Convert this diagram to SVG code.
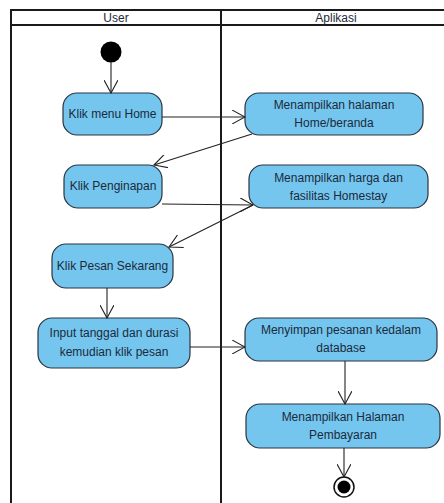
<svg xmlns="http://www.w3.org/2000/svg" width="444" height="503" viewBox="0 0 444 503">
<style>
.lane{stroke:#1a1a1a;stroke-width:2;fill:none}
.node rect{fill:#74c6ef;stroke:#2b3440;stroke-width:1.2}
text{font-family:"Liberation Sans",Arial,sans-serif;font-size:12px;fill:#1c2a3a;text-anchor:middle}
.conn path{stroke:#222;stroke-width:1.1;fill:none;marker-end:url(#arr)}
</style>
<defs>
<marker id="arr" viewBox="0 0 14 14" refX="13" refY="7" markerWidth="14" markerHeight="14" markerUnits="userSpaceOnUse" orient="auto">
<path d="M0,0 L13,7 L0,14" fill="none" stroke="#222" stroke-width="1.1"/>
</marker>
</defs>
<rect width="444" height="503" fill="#fff"/>
<g id="lanes">
<line class="lane" x1="11" y1="10" x2="444" y2="10"/>
<line class="lane" x1="11" y1="25" x2="444" y2="25"/>
<line class="lane" x1="11" y1="9" x2="11" y2="503"/>
<line class="lane" x1="221" y1="9" x2="221" y2="503"/>
<text x="116" y="22">User</text>
<text x="336" y="22">Aplikasi</text>
</g>
<g id="start"><circle cx="111" cy="52" r="10.5" fill="#000"/></g>
<g id="n1" class="node"><rect x="63" y="93" width="99" height="42" rx="14"/><text x="112.5" y="118">Klik menu Home</text></g>
<g id="n2" class="node"><rect x="245" y="93" width="178" height="42" rx="14"/><text x="334" y="109">Menampilkan halaman</text><text x="334" y="127">Home/beranda</text></g>
<g id="n3" class="node"><rect x="64" y="165" width="98" height="43" rx="14"/><text x="113" y="190">Klik Penginapan</text></g>
<g id="n4" class="node"><rect x="249" y="165" width="179" height="43" rx="14"/><text x="338.5" y="182">Menampilkan harga dan</text><text x="338.5" y="200">fasilitas Homestay</text></g>
<g id="n5" class="node"><rect x="52" y="244" width="121" height="44" rx="14"/><text x="112.5" y="270">Klik Pesan Sekarang</text></g>
<g id="n6" class="node"><rect x="38" y="318" width="152" height="50" rx="14"/><text x="114" y="337">Input tanggal dan durasi</text><text x="114" y="356">kemudian klik pesan</text></g>
<g id="n7" class="node"><rect x="245" y="318" width="192" height="43" rx="14"/><text x="341" y="334">Menyimpan pesanan kedalam</text><text x="341" y="352">database</text></g>
<g id="n8" class="node"><rect x="246" y="404" width="194" height="44" rx="14"/><text x="343" y="421">Menampilkan Halaman</text><text x="343" y="439">Pembayaran</text></g>
<g id="end"><circle cx="344" cy="487" r="10" fill="#fff" stroke="#111" stroke-width="1.5"/><circle cx="344" cy="487" r="6.5" fill="#000"/></g>
<g id="connectors" class="conn">
<path d="M111,62 L111,93"/>
<path d="M162,117 L245,117"/>
<path d="M252,134 L154,165"/>
<path d="M162,204 L253,205"/>
<path d="M253,205 L169,247"/>
<path d="M107,288 L107,318"/>
<path d="M190,347 L245,347"/>
<path d="M345,361 L345,404"/>
<path d="M344,448 L344,477"/>
</g>
</svg>
